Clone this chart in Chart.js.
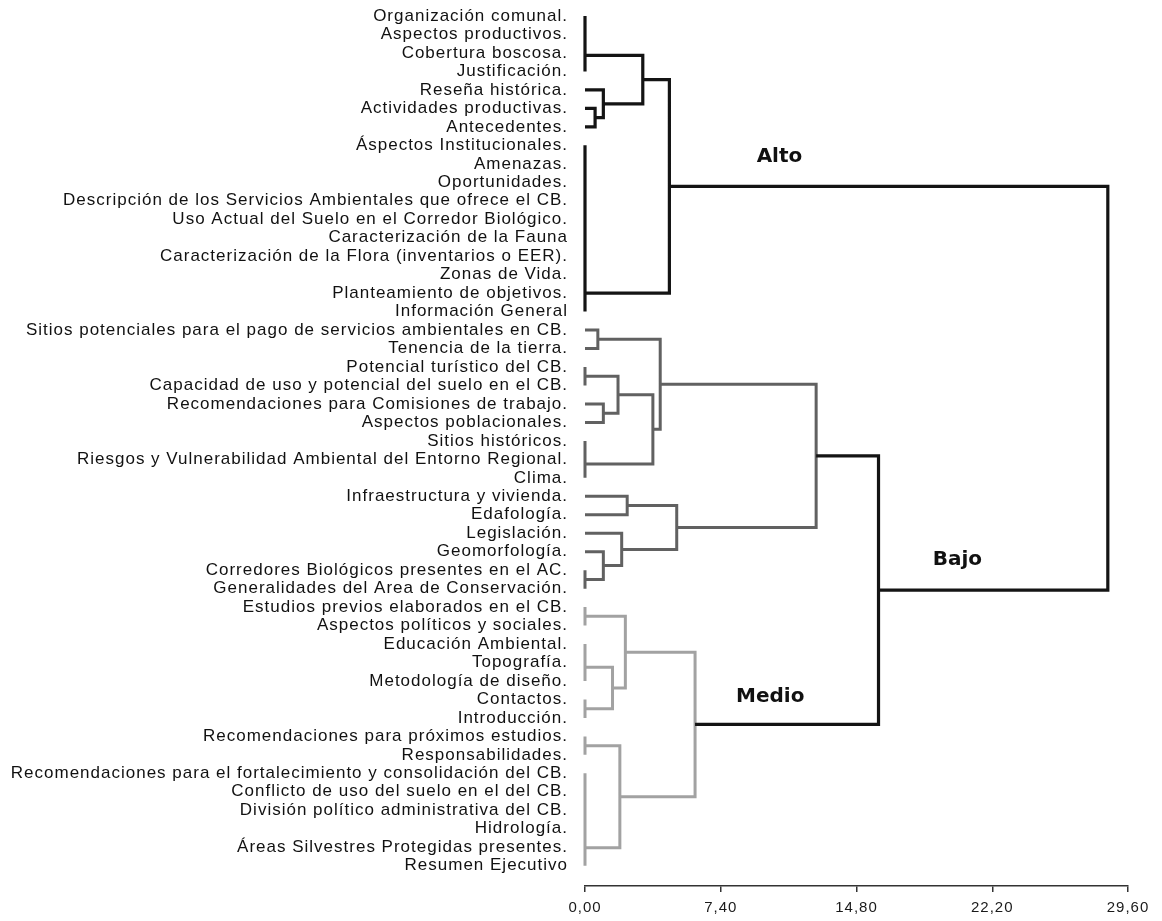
<!DOCTYPE html>
<html lang="es">
<head>
<meta charset="utf-8">
<title>Dendrograma de contenidos</title>
<script src="https://cdn.jsdelivr.net/npm/chart.js@4.4.1/dist/chart.umd.min.js"></script>
<style>
  html, body { margin: 0; padding: 0; background: #ffffff; }
  #wrap { position: relative; width: 1162px; height: 921px; }
</style>
</head>
<body>
<div id="wrap"><canvas id="dendro"></canvas></div>
<script>
// Leaves of the dendrogram, top to bottom
const leaves = [
  'Organización comunal.',
  'Aspectos productivos.',
  'Cobertura boscosa.',
  'Justificación.',
  'Reseña histórica.',
  'Actividades productivas.',
  'Antecedentes.',
  'Áspectos Institucionales.',
  'Amenazas.',
  'Oportunidades.',
  'Descripción de los Servicios Ambientales que ofrece el CB.',
  'Uso Actual del Suelo en el Corredor Biológico.',
  'Caracterización de la Fauna',
  'Caracterización de la Flora (inventarios o EER).',
  'Zonas de Vida.',
  'Planteamiento de objetivos.',
  'Información General',
  'Sitios potenciales para el pago de servicios ambientales en CB.',
  'Tenencia de la tierra.',
  'Potencial turístico del CB.',
  'Capacidad de uso y potencial del suelo en el CB.',
  'Recomendaciones para Comisiones de trabajo.',
  'Aspectos poblacionales.',
  'Sitios históricos.',
  'Riesgos y Vulnerabilidad Ambiental del Entorno Regional.',
  'Clima.',
  'Infraestructura y vivienda.',
  'Edafología.',
  'Legislación.',
  'Geomorfología.',
  'Corredores Biológicos presentes en el AC.',
  'Generalidades del Area de Conservación.',
  'Estudios previos elaborados en el CB.',
  'Aspectos políticos y sociales.',
  'Educación Ambiental.',
  'Topografía.',
  'Metodología de diseño.',
  'Contactos.',
  'Introducción.',
  'Recomendaciones para próximos estudios.',
  'Responsabilidades.',
  'Recomendaciones para el fortalecimiento y consolidación del CB.',
  'Conflicto de uso del suelo en el del CB.',
  'División político administrativa del CB.',
  'Hidrología.',
  'Áreas Silvestres Protegidas presentes.',
  'Resumen Ejecutivo'
];

// Agglomeration schedule: [cluster A, cluster B, distance].
// Ids below leaves.length are leaves; id leaves.length + k is the cluster built in step k.
const merges = [
  [0, 1, 0], [47, 2, 0], [48, 3, 0],                 // 47-49
  [5, 6, 0.55], [4, 50, 1.0], [49, 51, 3.15],        // 50-52
  [7, 8, 0], [53, 9, 0], [54, 10, 0], [55, 11, 0],   // 53-56
  [56, 12, 0], [57, 13, 0], [58, 14, 0], [59, 15, 0],// 57-60
  [60, 16, 0], [52, 61, 4.6],                        // 61-62
  [17, 18, 0.7], [19, 20, 0], [21, 22, 1.0],         // 63-65
  [64, 65, 1.8], [23, 24, 0], [67, 25, 0],           // 66-68
  [66, 68, 3.7], [63, 69, 4.1],                      // 69-70
  [26, 27, 2.3], [30, 31, 0], [29, 72, 1.0],         // 71-73
  [28, 73, 2.0], [71, 74, 5.0], [70, 75, 12.6],      // 74-76
  [32, 33, 0], [34, 35, 0], [78, 36, 0], [37, 38, 0],// 77-80
  [79, 80, 1.5], [77, 81, 2.2],                      // 81-82
  [39, 40, 0], [41, 42, 0], [84, 43, 0], [85, 44, 0],// 83-86
  [86, 45, 0], [87, 46, 0], [83, 88, 1.9],           // 87-89
  [82, 89, 6.0],                                     // 90
  [76, 90, 16.0],                                    // 91
  [62, 91, 28.5]                                     // 92
];

// Top clusters and their names
const groupRoots = [62, 76, 90];
const groupNames = ['Alto', 'Bajo', 'Medio'];

// Distance axis ticks
const distanceTicks = [0, 7.4, 14.8, 22.2, 29.6];

// ---- styling ----
const LINK_BLACK = '#141414';
const groupColors = ['#141414', '#616161', '#a2a2a2'];
const groupLabelAt = [[10.6, 7.6], [20.3, 29.45], [10.1, 36.85]];

// ---- build the tree geometry ----
const nLeaves = leaves.length;
const pos = leaves.map((_, i) => i);
const height = leaves.map(() => 0);
const children = {};
merges.forEach(([a, b, h], k) => {
  const id = nLeaves + k;
  pos[id] = (pos[a] + pos[b]) / 2;
  height[id] = h;
  children[id] = [a, b];
});

const colorOf = [];
function paint(id, c) {
  colorOf[id] = c;
  if (children[id]) children[id].forEach(ch => paint(ch, c));
}
groupRoots.forEach((r, g) => paint(r, groupColors[g]));

const paths = {};
merges.forEach(([a, b, h], k) => {
  const id = nLeaves + k;
  const c = colorOf[id] || LINK_BLACK;
  if (!paths[c]) paths[c] = [];
  paths[c].push(
    { x: height[a], y: pos[a] },
    { x: h, y: pos[a] },
    { x: h, y: pos[b] },
    { x: height[b], y: pos[b] },
    { x: h, y: null }
  );
});

const datasets = Object.keys(paths).map(c => ({
  data: paths[c],
  borderColor: c,
  borderWidth: c === LINK_BLACK ? 3.2 : 3,
  pointRadius: 0,
  tension: 0,
  spanGaps: false,
  clip: false,
  borderJoinStyle: 'miter',
  borderCapStyle: 'butt'
}));

// Group names written next to their branches
const groupLabels = {
  id: 'groupLabels',
  beforeDraw(chart) {
    chart.ctx.letterSpacing = '1px';
  },
  afterDraw(chart) {
    const { ctx, scales: { x, y } } = chart;
    ctx.save();
    ctx.letterSpacing = '0px';
    ctx.font = 'bold 20px "DejaVu Sans", Verdana, sans-serif';
    ctx.fillStyle = '#111';
    ctx.textAlign = 'center';
    ctx.textBaseline = 'middle';
    groupNames.forEach((name, g) => {
      const [vx, vy] = groupLabelAt[g];
      ctx.fillText(name, x.getPixelForValue(vx), y.getPixelForValue(vy));
    });
    ctx.restore();
  }
};

new Chart(document.getElementById('dendro'), {
  type: 'line',
  data: { datasets },
  plugins: [groupLabels],
  options: {
    responsive: true,
    maintainAspectRatio: false,
    animation: false,
    events: [],
    layout: { padding: { top: 5, right: 34, left: 0, bottom: 0 } },
    plugins: { legend: { display: false }, tooltip: { enabled: false } },
    scales: {
      x: {
        type: 'linear',
        min: 0,
        max: 29.6,
        afterBuildTicks(scale) { scale.ticks = distanceTicks.map(v => ({ value: v })); },
        afterFit(scale) {
          scale.height = 35;
          scale.paddingLeft = 0;
          scale.paddingRight = 0;
        },
        ticks: {
          autoSkip: false,
          maxRotation: 0,
          padding: 7,
          color: '#1a1a1a',
          font: { family: '"Liberation Sans", Arial, sans-serif', size: 15 },
          callback: v => v.toFixed(2).replace('.', ',')
        },
        grid: { display: true, drawOnChartArea: false, drawTicks: true, tickLength: 6, color: '#333', lineWidth: 1.5 },
        border: { display: true, color: '#333', width: 1.5 }
      },
      y: {
        type: 'linear',
        reverse: true,
        min: -0.6,
        max: 47.1,
        afterBuildTicks(scale) { scale.ticks = leaves.map((_, i) => ({ value: i })); },
        afterFit(scale) {
          scale.width = 585;
          scale.paddingTop = 0;
          scale.paddingBottom = 0;
        },
        ticks: {
          autoSkip: false,
          padding: 9,
          color: '#111',
          font: { family: '"Liberation Sans", Arial, sans-serif', size: 17 },
          callback: v => leaves[v] ?? ''
        },
        grid: { display: false },
        border: { display: false }
      }
    }
  }
});
</script>
</body>
</html>
